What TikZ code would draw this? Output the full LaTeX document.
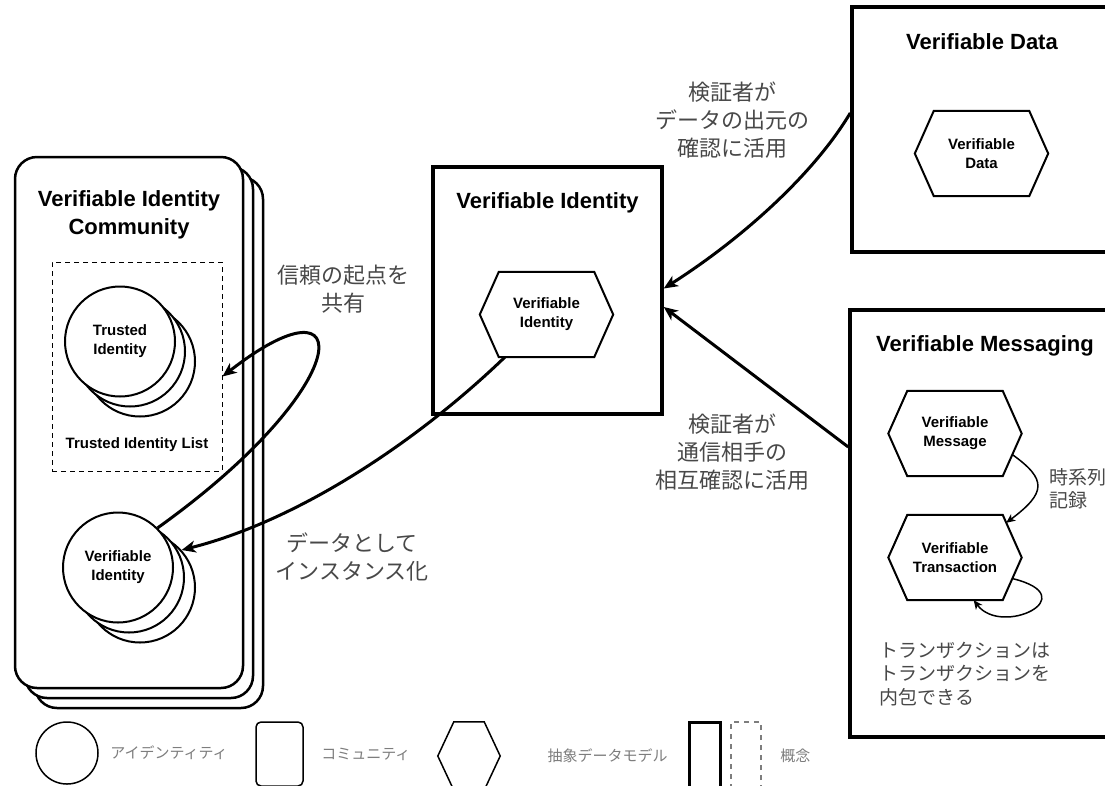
\documentclass[tikz,border=0pt]{standalone}
\usepackage{fontspec}
\setmainfont{Liberation Sans}
\newfontfamily\jpfont{Noto Sans CJK JP}
\usepackage{tikz}
\usetikzlibrary{arrows.meta,positioning}
\definecolor{notegray}{RGB}{72,72,72}
\definecolor{keygray}{RGB}{125,125,125}
\newcommand{\ttlfont}{\bfseries\fontsize{22}{28}\selectfont}
\newcommand{\hexfont}{\bfseries\fontsize{15}{19}\selectfont}
\newcommand{\notefont}{\jpfont\fontsize{22}{28}\selectfont}
\newcommand{\smallnotefont}{\jpfont\fontsize{19}{23.5}\selectfont}
\newcommand{\keyfont}{\jpfont\fontsize{15}{18}\selectfont}
% hexagon = plain node + outline drawn from its anchors
\newcommand{\hexnode}[3]{%
  \node[hexbox] (#1) at (#2) {#3};
  \draw[hexline] (#1.west) -- ([xshift=19pt]#1.north west) -- ([xshift=-19pt]#1.north east)
    -- (#1.east) -- ([xshift=-19pt]#1.south east) -- ([xshift=19pt]#1.south west) -- cycle;}

\begin{document}
\begin{tikzpicture}[x=1pt, y=-1pt,
  >={Stealth[length=14pt,width=12pt,inset=4pt]},
  frame/.style={draw, line width=3.5pt, fill=white},
  commbox/.style={draw, line width=2.5pt, fill=white, rounded corners=22pt,
                  minimum width=228pt, minimum height=531pt},
  circ/.style={draw, circle, line width=2pt, fill=white, minimum size=110pt,
               inner sep=0pt, align=center, font=\hexfont},
  hexbox/.style={minimum width=133pt, minimum height=85pt, inner sep=0pt,
                 align=center, font=\hexfont},
  hexline/.style={line width=2pt},
  ttl/.style={align=center, font=\ttlfont},
  note/.style={align=center, text=notegray, font=\notefont},
  smallnote/.style={align=left, text=notegray, font=\smallnotefont},
  key/.style={text=keygray, font=\keyfont},
  link/.style={->, line width=3pt},
  smalllink/.style={line width=1.5pt, -{Stealth[length=9pt,width=8pt,inset=2.5pt]}}]
\useasboundingbox (0,0) rectangle (1105,785);
\clip (0,0) rectangle (1105,785);

% community stack
\node[commbox] (comm3) at (149,442.5) {};
\node[commbox] (comm2) at (139,432.5) {};
\node[commbox] (comm)  at (129,422.5) {};
\node[ttl] (commttl) at ([yshift=-59pt]comm.north) {Verifiable Identity\\Community};
\node[draw, dash pattern=on 5pt off 4pt, line width=1pt,
      minimum width=170pt, minimum height=209pt] (tilist) at (137,366.5) {};
\node[circ] (tid3) at (140,361.5) {};
\node[circ] (tid2) at (130,351.5) {};
\node[circ] (tid)  at (120,341.5) {Trusted\\Identity};
\node[font=\hexfont] (tilistttl) at (137,445) {Trusted Identity List};
\node[circ] (vic3) at (140,587.5) {};
\node[circ] (vic2) at (129,577.5) {};
\node[circ] (vic)  at (118,567.5) {Verifiable\\Identity};

% verifiable identity
\node[frame, minimum width=229pt, minimum height=247pt] (vibox) at (547.5,290.5) {};
\node[ttl] (vittl) at ([yshift=-38pt]vibox.north) {Verifiable Identity};
\hexnode{vihex}{546.5,314.5}{Verifiable\\Identity}

% verifiable data
\node[frame, minimum width=260pt, minimum height=245pt] (databox) at (982,129.5) {};
\node[ttl] (datattl) at ([yshift=-36pt]databox.north) {Verifiable Data};
\hexnode{datahex}{981.5,153.5}{Verifiable\\Data}

% verifiable messaging
\node[frame, minimum width=270pt, minimum height=427pt] (msgbox) at (985,523.5) {};
\node[ttl] (msgttl) at ([yshift=-38pt]msgbox.north) {Verifiable Messaging};
\hexnode{msghex}{955,433.5}{Verifiable\\Message}
\hexnode{trhex}{955,557.5}{Verifiable\\Transaction}

% connectors
\draw[link] (vic.45) .. controls +(200,-143) and +(137,-107) .. ([yshift=-10pt]tilist.east);
\draw[link] ([xshift=25pt]vihex.south west) .. controls +(-85,82) and +(119,-30) .. (vic3.42);
\draw[link] ([yshift=16.5pt]databox.west) .. controls +(-37,62) and +(77,-49) .. ([yshift=2pt]vibox.east);
\draw[link] ([yshift=76.5pt]msgbox.west) -- ([yshift=-16.5pt]vibox.east);
\draw[smalllink] ([xshift=-9.5pt,yshift=-21pt]msghex.east) .. controls +(35,25) and +(40,-30)
  .. ([xshift=-15.5pt,yshift=-8pt]trhex.north east);
\draw[smalllink] ([xshift=-9.5pt,yshift=-21pt]trhex.east) .. controls +(74,18) and +(28,37)
  .. ([xshift=-48pt]trhex.south east);

% notes
\node[note] (trustnote) at (343,289) {信頼の起点を\\共有};
\node[note] (instnote) at (352,556.5) {データとして\\インスタンス化};
\node[note] (datanote) at (732,120) {検証者が\\データの出元の\\確認に活用};
\node[note] (msgnote) at (732,452.5) {検証者が\\通信相手の\\相互確認に活用};
\node[smallnote, anchor=west] (seqnote) at (1046,489) {時系列\\記録};
\node[smallnote, anchor=west] (nestnote) at (876,674) {トランザクションは\\トランザクションを\\内包できる};

% legend
\node[draw, circle, line width=1.5pt, minimum size=62pt, inner sep=0pt] (keyid) at (67,753) {};
\node[key, right=8pt of keyid] (keyidtxt) {アイデンティティ};
\node[draw, rounded corners=5pt, line width=1.5pt, minimum width=47pt,
      minimum height=64pt] (keycomm) at (279.5,754) {};
\node[key, right=14pt of keycomm] (keycommtxt) {コミュニティ};
\node[minimum width=62pt, minimum height=68pt, inner sep=0pt] (keyhex) at (469,756) {};
\draw[line width=1.5pt] (keyhex.west) -- ([xshift=16pt]keyhex.north west)
  -- ([xshift=-16pt]keyhex.north east) -- (keyhex.east)
  -- ([xshift=-16pt]keyhex.south east) -- ([xshift=16pt]keyhex.south west) -- cycle;
\node[key, right=44pt of keyhex] (keyhextxt) {抽象データモデル};
\node[draw, line width=3pt, minimum width=31pt, minimum height=68pt] (keyabs) at (704.5,756) {};
\node[draw=keygray, dash pattern=on 5pt off 5pt, line width=1.5pt,
      minimum width=30pt, minimum height=68pt] (keydash) at (746,756) {};
\node[key, right=15pt of keydash] (keydashtxt) {概念};
\end{tikzpicture}
\end{document}
